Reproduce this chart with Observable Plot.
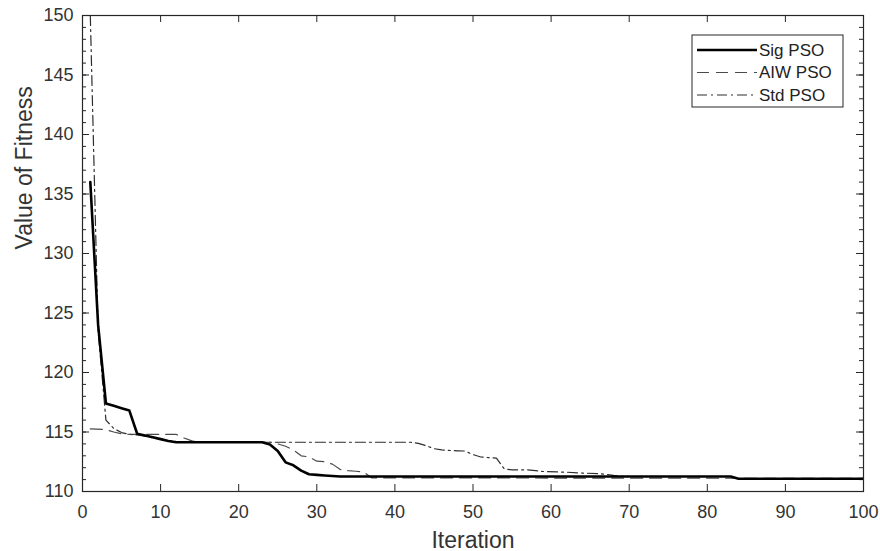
<!DOCTYPE html>
<html><head><meta charset="utf-8">
<script src="https://cdn.jsdelivr.net/npm/d3@7"></script>
<script src="https://cdn.jsdelivr.net/npm/@observablehq/plot@0.6"></script>
<style>
body{margin:0;background:#fff;}
#chart{width:880px;height:551px;}
</style></head><body><div id="chart"></div>
<script>
// ---- data ----
const sigX = [1,2,3,4,5,6,7,8,9,10,11,12,23,24,25,26,27,28,29,30,31,32,33,83,84,100];
const sigY = [136,124,117.4,117.2,117.0,116.8,114.85,114.7,114.55,114.4,114.25,114.14,114.14,113.95,113.4,112.45,112.2,111.76,111.45,111.4,111.35,111.3,111.26,111.26,111.07,111.07];

const aiwX = [1,3,4,5,6,12,13,14,15,24,25,26,27,28,29,30,31,32,33,34,35,36,37,100];
const aiwY = [115.27,115.2,115.0,114.85,114.8,114.8,114.5,114.25,114.14,114.14,114.0,113.8,113.5,113.0,112.9,112.55,112.5,112.3,111.85,111.75,111.7,111.65,111.15,111.1];

const stdX = [1,2,3,4,5,6,7,8,9,10,11,12,13,42,43,44,45,46,47,48,49,50,51,52,53,54,55,57,58,59,62,64,66,67,68,69,70,83,84,100];
const stdY = [150,123.5,116.0,115.3,114.95,114.8,114.75,114.65,114.5,114.4,114.3,114.2,114.14,114.14,114.05,113.85,113.6,113.5,113.45,113.42,113.4,113.1,112.9,112.85,112.8,111.9,111.82,111.82,111.75,111.68,111.62,111.55,111.5,111.45,111.35,111.28,111.26,111.26,111.07,111.07];

const seriesNames = ["Sig PSO", "AIW PSO", "Std PSO"];
const xTicks = [0,10,20,30,40,50,60,70,80,90,100];
const yTicks = [110,115,120,125,130,135,140,145,150];
const yMinor = d3.range(110, 151, 1);
const xLabel = "Iteration";
const yLabel = "Value of Fitness";

// ---- build rows ----
function rows(name, xs, ys) { return xs.map((x, i) => ({series: name, x, y: ys[i]})); }
const sig = rows(seriesNames[0], sigX, sigY);
const aiw = rows(seriesNames[1], aiwX, aiwY);
const std = rows(seriesNames[2], stdX, stdY);

const styles = {
  "Sig PSO": {stroke: "#000", strokeWidth: 2.6, dash: null},
  "AIW PSO": {stroke: "#4a4a4a", strokeWidth: 1.2, dash: "12,7"},
  "Std PSO": {stroke: "#2e2e2e", strokeWidth: 1.2, dash: "10,4,2,4"}
};

const W = 880, H = 551;
const mL = 82, mR = 17, mT = 15, mB = 60;
const pw = W - mL - mR, ph = H - mT - mB;
const axisColor = "#262626";
const font = "'Liberation Sans', Arial, Helvetica, sans-serif";

const chart = Plot.plot({
  width: W, height: H,
  marginLeft: mL, marginRight: mR, marginTop: mT, marginBottom: mB,
  style: {fontFamily: font, fontSize: "18px", color: "#333", background: "#fff"},
  x: {domain: [0, 100]},
  y: {domain: [110, 150]},
  marks: [
    Plot.ruleX(xTicks, {insetTop: ph - 7, stroke: axisColor, strokeWidth: 1}),
    Plot.ruleX(xTicks, {insetBottom: ph - 7, stroke: axisColor, strokeWidth: 1}),
    Plot.ruleY(yTicks, {insetRight: pw - 7, stroke: axisColor, strokeWidth: 1}),
    Plot.ruleY(yTicks, {insetLeft: pw - 7, stroke: axisColor, strokeWidth: 1}),
    Plot.ruleY(yMinor, {insetRight: pw - 4, stroke: axisColor, strokeWidth: 1}),
    Plot.ruleY(yMinor, {insetLeft: pw - 4, stroke: axisColor, strokeWidth: 1}),
    Plot.line(std, {x: "x", y: "y", stroke: styles["Std PSO"].stroke, strokeWidth: styles["Std PSO"].strokeWidth, strokeDasharray: styles["Std PSO"].dash, clip: true}),
    Plot.line(aiw, {x: "x", y: "y", stroke: styles["AIW PSO"].stroke, strokeWidth: styles["AIW PSO"].strokeWidth, strokeDasharray: styles["AIW PSO"].dash, clip: true}),
    Plot.line(sig, {x: "x", y: "y", stroke: styles["Sig PSO"].stroke, strokeWidth: styles["Sig PSO"].strokeWidth, clip: true}),
    Plot.frame({stroke: axisColor, strokeWidth: 1.2}),
    Plot.axisX({ticks: xTicks, tickSize: 0, tickPadding: 14, label: null, fill: "#333"}),
    Plot.axisY({ticks: yTicks, tickSize: 0, tickPadding: 9, label: null, fill: "#333"}),
    Plot.text([xLabel], {frameAnchor: "bottom", dy: 56, fontSize: 23, fill: "#333", text: d => d}),
    Plot.text([yLabel], {frameAnchor: "left", dx: -58, dy: -4, rotate: -90, fontSize: 23, fill: "#333", text: d => d})
  ]
});

// ---- legend (inside plot, top-right) ----
const svg = d3.select(chart);
const lg = svg.append("g").attr("font-family", font).attr("font-size", 17).attr("text-anchor", "start");
const bx = 692, by = 35, bw = 151, bh = 72;
lg.append("rect").attr("x", bx).attr("y", by).attr("width", bw).attr("height", bh)
  .attr("fill", "#fff").attr("stroke", axisColor).attr("stroke-width", 1);
seriesNames.forEach((name, i) => {
  const yy = by + 15 + i * 22.5;
  const s = styles[name];
  lg.append("line").attr("x1", bx + 5).attr("x2", bx + 65).attr("y1", yy).attr("y2", yy)
    .attr("stroke", s.stroke).attr("stroke-width", s.strokeWidth)
    .attr("stroke-dasharray", s.dash);
  lg.append("text").attr("x", bx + 67).attr("y", yy).attr("dy", "0.35em")
    .attr("text-anchor", "start").attr("fill", "#222").text(name);
});

document.getElementById("chart").appendChild(chart);
</script></body></html>
